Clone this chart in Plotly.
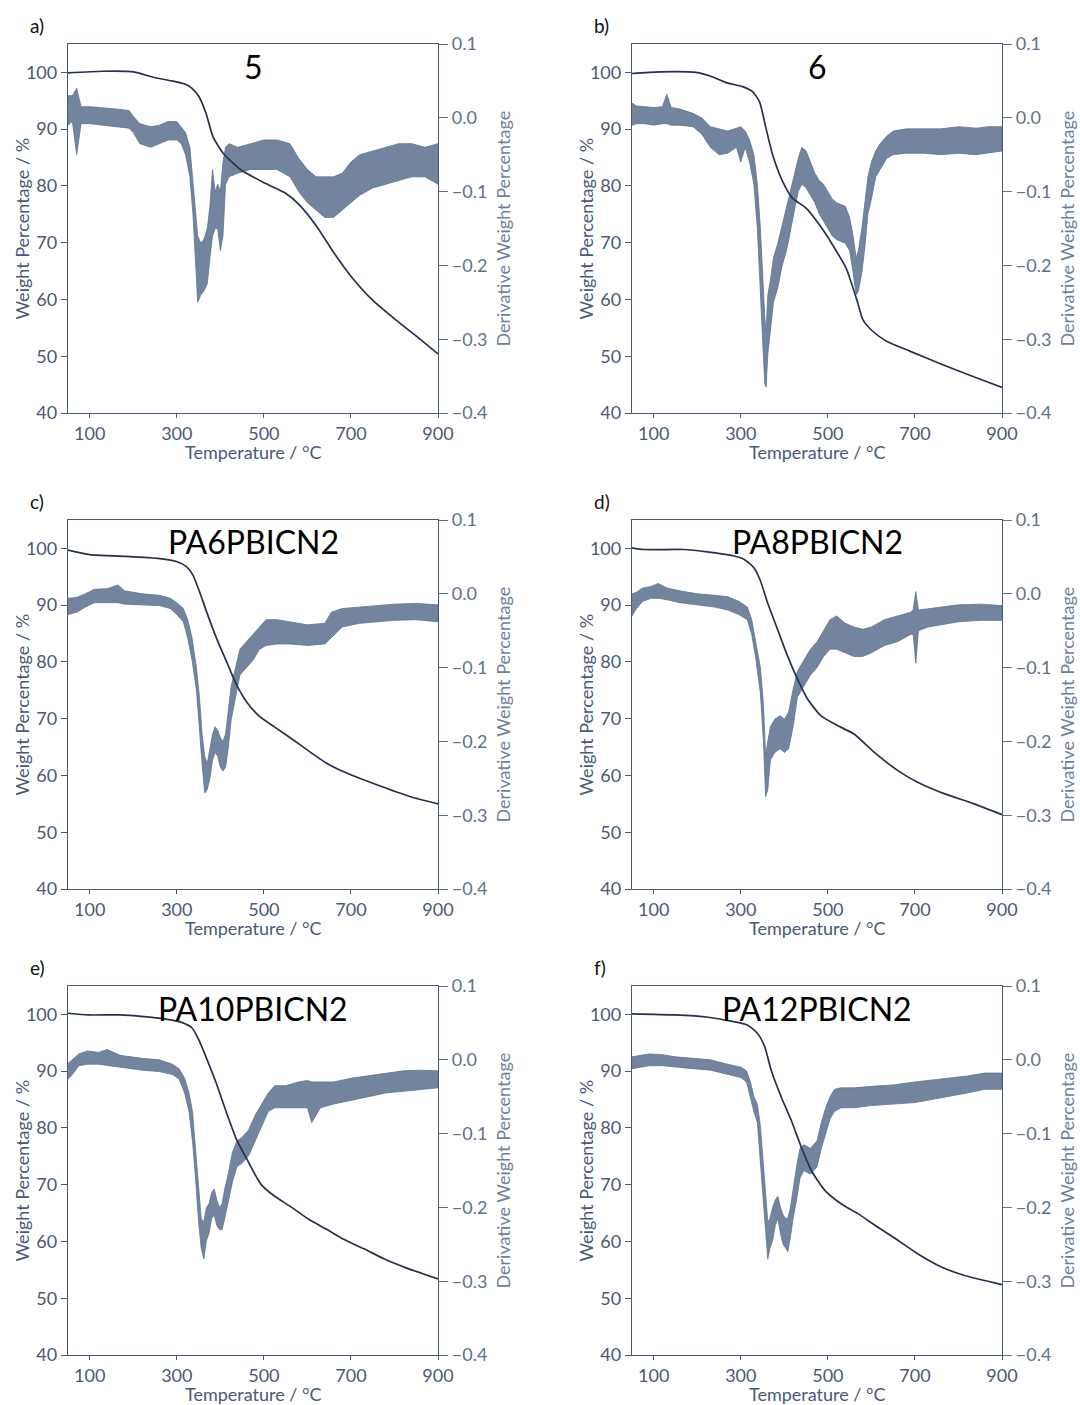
import plotly.graph_objects as go

W, H = 1080, 1405

PANEL_LABELS = ["a)", "b)", "c)", "d)", "e)", "f)"]
SAMPLE_NAMES = ["5", "6", "PA6PBICN2", "PA8PBICN2", "PA10PBICN2", "PA12PBICN2"]

X_TICKS = [100, 300, 500, 700, 900]
W_TICKS = [40, 50, 60, 70, 80, 90, 100]
D_TICKS = [-0.4, -0.3, -0.2, -0.1, 0.0, 0.1]

# ---------------- panel a (5) ----------------
tga_a_T = [50, 129, 201, 248, 288, 320, 335, 351, 367, 383, 407, 446, 502, 550, 581, 621, 661, 700, 748, 803, 851, 900]
tga_a_W = [99.9, 100.2, 100.1, 99.1, 98.5, 97.9, 97.2, 95.7, 92.8, 88.7, 85.7, 82.9, 80.5, 78.7, 76.7, 72.9, 68.2, 64.1, 60.0, 56.4, 53.5, 50.4]
dtg_a_T = [50, 60, 70, 80, 100, 130, 160, 190, 200, 215, 240, 260, 280, 300, 310, 320, 330, 337, 342, 348, 355, 362, 370, 376, 382, 388, 394, 400, 406, 412, 420, 440, 470, 500, 530, 560, 580, 600, 620, 640, 660, 680, 700, 720, 750, 780, 810, 840, 870, 900]
dtg_a_lo = [-0.01, -0.005, -0.05, -0.008, -0.008, -0.01, -0.012, -0.014, -0.02, -0.035, -0.04, -0.035, -0.03, -0.03, -0.035, -0.05, -0.08, -0.13, -0.18, -0.25, -0.24, -0.235, -0.225, -0.19, -0.16, -0.15, -0.15, -0.18, -0.16, -0.09, -0.08, -0.075, -0.07, -0.07, -0.07, -0.08, -0.1, -0.115, -0.125, -0.135, -0.135, -0.125, -0.115, -0.105, -0.095, -0.09, -0.085, -0.08, -0.08, -0.09]
dtg_a_hi = [0.03, 0.03, 0.04, 0.015, 0.015, 0.014, 0.012, 0.01, 0.002, -0.008, -0.012, -0.01, -0.005, -0.005, -0.012, -0.02, -0.04, -0.085, -0.12, -0.16, -0.17, -0.165, -0.15, -0.12, -0.07, -0.1, -0.09, -0.1, -0.06, -0.04, -0.035, -0.04, -0.035, -0.03, -0.03, -0.035, -0.055, -0.07, -0.08, -0.08, -0.08, -0.075, -0.06, -0.05, -0.045, -0.04, -0.035, -0.035, -0.04, -0.035]

# ---------------- panel b (6) ----------------
tga_b_T = [50, 113, 197, 228, 266, 304, 327, 343, 358, 373, 396, 419, 450, 481, 511, 542, 569, 580, 603, 634, 688, 764, 841, 900]
tga_b_W = [99.8, 100.1, 100.0, 99.4, 98.2, 97.5, 96.6, 94.8, 90.1, 85.5, 80.8, 77.8, 76.1, 73.1, 69.6, 65.5, 59.3, 56.5, 54.4, 52.7, 50.9, 48.5, 46.2, 44.5]
dtg_b_T = [50, 60, 80, 100, 120, 130, 140, 160, 190, 210, 230, 250, 270, 290, 300, 310, 320, 330, 338, 345, 350, 355, 358, 362, 368, 375, 385, 395, 405, 415, 425, 432, 440, 450, 460, 470, 480, 490, 500, 510, 520, 530, 540, 550, 558, 565, 570, 578, 585, 592, 600, 610, 620, 635, 650, 680, 720, 760, 800, 840, 870, 900]
dtg_b_lo = [-0.01, -0.008, -0.008, -0.01, -0.008, -0.008, -0.01, -0.01, -0.012, -0.022, -0.04, -0.05, -0.048, -0.04, -0.06, -0.04, -0.06, -0.09, -0.15, -0.23, -0.3, -0.36, -0.365, -0.32, -0.29, -0.25, -0.23, -0.2, -0.18, -0.15, -0.12, -0.1, -0.09, -0.095, -0.105, -0.115, -0.13, -0.14, -0.15, -0.16, -0.165, -0.168, -0.17, -0.18, -0.21, -0.24, -0.235, -0.21, -0.175, -0.13, -0.11, -0.08, -0.07, -0.055, -0.05, -0.048, -0.048, -0.05, -0.048, -0.05, -0.048, -0.045]
dtg_b_hi = [0.02, 0.016, 0.015, 0.014, 0.015, 0.032, 0.014, 0.012, 0.006, 0.0, -0.012, -0.015, -0.018, -0.014, -0.012, -0.018, -0.03, -0.05, -0.09, -0.15, -0.22, -0.27, -0.29, -0.24, -0.22, -0.19, -0.17, -0.145, -0.12, -0.095, -0.07, -0.055, -0.04, -0.045, -0.06, -0.075, -0.085, -0.09, -0.1, -0.11, -0.115, -0.118, -0.12, -0.135, -0.16, -0.19, -0.18, -0.15, -0.115, -0.08, -0.06, -0.045, -0.035, -0.025, -0.018, -0.015, -0.015, -0.015, -0.012, -0.014, -0.012, -0.012]

# ---------------- panel c (PA6PBICN2) ----------------
tga_c_T = [50, 100, 184, 261, 299, 322, 337, 352, 368, 391, 414, 437, 460, 490, 529, 567, 605, 643, 682, 758, 835, 900]
tga_c_W = [99.7, 98.9, 98.6, 98.2, 97.7, 96.8, 95.3, 92.4, 88.9, 84.2, 80.1, 76.0, 73.0, 70.4, 68.3, 66.3, 64.2, 62.2, 60.7, 58.4, 56.3, 55.0]
dtg_c_T = [50, 70, 90, 110, 140, 165, 180, 220, 260, 285, 300, 315, 325, 335, 345, 352, 358, 364, 370, 376, 382, 388, 394, 400, 406, 412, 418, 425, 435, 445, 460, 475, 490, 505, 530, 560, 600, 640, 655, 680, 720, 760, 800, 850, 900]
dtg_c_lo = [-0.028, -0.025, -0.018, -0.012, -0.012, -0.012, -0.014, -0.015, -0.016, -0.02, -0.028, -0.038, -0.06, -0.09, -0.13, -0.18, -0.23, -0.27, -0.265, -0.25, -0.225, -0.215, -0.22, -0.235, -0.24, -0.235, -0.21, -0.17, -0.14, -0.11, -0.1, -0.09, -0.075, -0.07, -0.068, -0.068, -0.07, -0.068, -0.06, -0.045, -0.04, -0.038, -0.036, -0.035, -0.038]
dtg_c_hi = [-0.006, -0.005, 0.0, 0.006, 0.007, 0.012, 0.004, 0.0, -0.002, -0.006, -0.012, -0.02, -0.035, -0.06, -0.1, -0.14, -0.19, -0.22, -0.23, -0.21, -0.19, -0.18, -0.185, -0.195, -0.2, -0.19, -0.16, -0.125, -0.1, -0.075, -0.065, -0.055, -0.045, -0.035, -0.035, -0.038, -0.042, -0.04, -0.025, -0.02, -0.018, -0.015, -0.014, -0.013, -0.015]

# ---------------- panel d (PA8PBICN2) ----------------
tga_d_T = [50, 77, 169, 223, 276, 307, 330, 345, 361, 384, 407, 430, 453, 483, 522, 560, 606, 660, 706, 767, 836, 900]
tga_d_W = [100.1, 99.8, 99.8, 99.4, 98.8, 98.1, 96.6, 94.3, 90.5, 85.8, 81.1, 77.0, 73.5, 70.6, 68.8, 67.3, 64.1, 60.9, 58.8, 56.8, 55.0, 53.1]
dtg_d_T = [50, 60, 75, 95, 110, 130, 160, 200, 240, 270, 295, 315, 325, 335, 345, 352, 357, 362, 368, 378, 390, 400, 410, 420, 430, 445, 460, 475, 490, 505, 520, 540, 560, 580, 600, 630, 660, 690, 696, 702, 708, 730, 760, 800, 850, 900]
dtg_d_lo = [-0.03, -0.02, -0.01, -0.006, -0.006, -0.008, -0.012, -0.015, -0.018, -0.022, -0.028, -0.035, -0.055, -0.09, -0.135, -0.2, -0.275, -0.265, -0.225, -0.215, -0.21, -0.215, -0.21, -0.18, -0.14, -0.125, -0.11, -0.1, -0.085, -0.075, -0.075, -0.08, -0.085, -0.085, -0.08, -0.07, -0.065, -0.055, -0.055, -0.094, -0.05, -0.045, -0.042, -0.038, -0.036, -0.036]
dtg_d_hi = [0.0, 0.002, 0.008, 0.01, 0.014, 0.008, 0.004, 0.0, -0.002, -0.004, -0.01, -0.018, -0.035, -0.065, -0.1, -0.15, -0.22, -0.2, -0.18, -0.17, -0.165, -0.17, -0.16, -0.13, -0.105, -0.09, -0.075, -0.065, -0.05, -0.035, -0.03, -0.04, -0.045, -0.048, -0.045, -0.035, -0.03, -0.025, -0.022, 0.003, -0.022, -0.02, -0.018, -0.015, -0.014, -0.016]

# ---------------- panel e (PA10PBICN2) ----------------
tga_e_T = [50, 97, 169, 224, 271, 311, 335, 350, 366, 390, 414, 437, 461, 493, 524, 564, 603, 643, 683, 730, 777, 825, 900]
tga_e_W = [100.2, 99.9, 99.9, 99.6, 99.2, 98.6, 97.6, 95.6, 92.7, 88.0, 82.7, 78.0, 74.5, 70.1, 68.0, 66.0, 63.9, 62.2, 60.4, 58.7, 56.9, 55.4, 53.4]
dtg_e_T = [50, 60, 75, 95, 120, 140, 170, 220, 260, 290, 305, 318, 328, 336, 343, 350, 356, 362, 368, 374, 380, 386, 392, 398, 404, 410, 418, 428, 438, 450, 465, 480, 495, 510, 525, 550, 580, 600, 610, 630, 660, 700, 740, 780, 820, 860, 900]
dtg_e_lo = [-0.026, -0.02, -0.008, -0.006, -0.006, -0.008, -0.01, -0.014, -0.016, -0.02, -0.026, -0.045, -0.07, -0.11, -0.16, -0.22, -0.255, -0.27, -0.245, -0.235, -0.215, -0.21, -0.225, -0.23, -0.23, -0.215, -0.195, -0.165, -0.145, -0.14, -0.13, -0.11, -0.09, -0.07, -0.065, -0.065, -0.065, -0.065, -0.085, -0.065, -0.06, -0.055, -0.05, -0.045, -0.042, -0.04, -0.038]
dtg_e_hi = [-0.005, 0.0, 0.008, 0.012, 0.01, 0.014, 0.006, 0.002, 0.0, -0.006, -0.012, -0.025, -0.045, -0.07, -0.12, -0.17, -0.215, -0.22, -0.2, -0.195, -0.18, -0.175, -0.19, -0.2, -0.195, -0.175, -0.155, -0.125, -0.11, -0.105, -0.095, -0.075, -0.06, -0.045, -0.035, -0.035, -0.03, -0.028, -0.03, -0.03, -0.03, -0.025, -0.022, -0.018, -0.015, -0.014, -0.015]

# ---------------- panel f (PA12PBICN2) ----------------
tga_f_T = [50, 148, 225, 278, 316, 339, 355, 370, 393, 416, 439, 462, 493, 531, 569, 615, 661, 707, 761, 814, 900]
tga_f_W = [100.1, 99.9, 99.5, 98.8, 98.1, 96.6, 94.3, 90.1, 85.4, 81.3, 76.6, 72.5, 69.0, 66.6, 64.9, 62.5, 60.2, 57.8, 55.5, 54.0, 52.4]
dtg_f_T = [50, 70, 90, 120, 150, 190, 230, 270, 300, 313, 322, 330, 338, 345, 352, 358, 362, 367, 373, 379, 385, 391, 397, 403, 408, 414, 420, 428, 436, 445, 460, 475, 485, 495, 505, 515, 530, 560, 600, 650, 700, 760, 820, 860, 900]
dtg_f_lo = [-0.012, -0.01, -0.008, -0.008, -0.01, -0.012, -0.014, -0.02, -0.024, -0.03, -0.05, -0.07, -0.085, -0.13, -0.19, -0.24, -0.27, -0.255, -0.245, -0.225, -0.215, -0.235, -0.25, -0.255, -0.26, -0.24, -0.215, -0.19, -0.16, -0.15, -0.155, -0.145, -0.12, -0.1, -0.08, -0.07, -0.065, -0.065, -0.062, -0.06, -0.058, -0.052, -0.045, -0.04, -0.04]
dtg_f_hi = [0.004, 0.006, 0.008, 0.007, 0.004, 0.002, 0.0, -0.006, -0.01, -0.015, -0.03, -0.05, -0.06, -0.09, -0.14, -0.19, -0.22, -0.215, -0.2, -0.19, -0.185, -0.2, -0.21, -0.215, -0.215, -0.2, -0.175, -0.145, -0.12, -0.115, -0.12, -0.11, -0.085, -0.065, -0.05, -0.04, -0.038, -0.038, -0.036, -0.034, -0.03, -0.026, -0.022, -0.018, -0.018]

PANELS = [
    (tga_a_T, tga_a_W, dtg_a_T, dtg_a_lo, dtg_a_hi),
    (tga_b_T, tga_b_W, dtg_b_T, dtg_b_lo, dtg_b_hi),
    (tga_c_T, tga_c_W, dtg_c_T, dtg_c_lo, dtg_c_hi),
    (tga_d_T, tga_d_W, dtg_d_T, dtg_d_lo, dtg_d_hi),
    (tga_e_T, tga_e_W, dtg_e_T, dtg_e_lo, dtg_e_hi),
    (tga_f_T, tga_f_W, dtg_f_T, dtg_f_lo, dtg_f_hi),
]

# ---------------- styling ----------------
FONT = "Lato"
AXIS_COL = "#4a5979"
RIGHT_COL = "#5f7091"
RIGHT_TITLE_COL = "#6e7f9c"
DTG_COL = "#5f7391"
DTG_FILL = "rgba(95,115,145,0.88)"
TGA_COL = "#27314d"
TICK_SIZE = 18
TITLE_SIZE = 18

COL_X = [(68, 438), (632, 1002)]        # plot left/right in px
ROW_Y = [(44, 413), (520, 889), (986, 1355)]  # plot top/bottom in px

fig = go.Figure()
layout = dict(
    width=W, height=H, margin=dict(l=0, r=0, t=0, b=0, autoexpand=False),
    paper_bgcolor="white", plot_bgcolor="white", showlegend=False,
    font=dict(family=FONT, color=AXIS_COL),
)
annotations = []

for i, (tT, tW, dT, dlo, dhi) in enumerate(PANELS):
    r, c = divmod(i, 2)
    x0, x1 = COL_X[c]
    y0, y1 = ROW_Y[r]
    xn = i + 1
    ybase = 2 * i + 1   # DTG axis (right side)
    yover = 2 * i + 2   # TGA axis (left side, drawn on top)
    xkey = "xaxis" if xn == 1 else f"xaxis{xn}"
    xref = "x" if xn == 1 else f"x{xn}"
    ybkey = "yaxis" if ybase == 1 else f"yaxis{ybase}"
    ybref = "y" if ybase == 1 else f"y{ybase}"
    yokey = f"yaxis{yover}"
    yoref = f"y{yover}"

    dom_x = [x0 / W, x1 / W]
    dom_y = [1 - y1 / H, 1 - y0 / H]

    layout[xkey] = dict(
        domain=dom_x, anchor=ybref, range=[50, 900], tickvals=X_TICKS,
        showline=True, linecolor=AXIS_COL, linewidth=1.3, mirror=True,
        ticks="outside", ticklen=4, tickwidth=1.2, tickcolor=AXIS_COL,
        showgrid=False, zeroline=False, automargin=False,
        tickfont=dict(family=FONT, size=TICK_SIZE, color=AXIS_COL),
    )
    layout[ybkey] = dict(
        domain=dom_y, anchor=xref, side="right", range=[-0.4, 0.1],
        tickvals=D_TICKS, tickformat=".1f",
        showline=True, linecolor=AXIS_COL, linewidth=1.3,
        ticks="outside", ticklen=9, tickwidth=1.2, tickcolor=RIGHT_COL,
        showgrid=False, zeroline=False, automargin=False,
        tickfont=dict(family=FONT, size=TICK_SIZE, color=RIGHT_COL),
    )
    layout[yokey] = dict(
        overlaying=ybref, anchor=xref, side="left", range=[40, 105],
        tickvals=W_TICKS,
        showline=True, linecolor=AXIS_COL, linewidth=1.3,
        ticks="outside", ticklen=6, tickwidth=1.2, tickcolor=AXIS_COL,
        showgrid=False, zeroline=False, automargin=False,
        tickfont=dict(family=FONT, size=TICK_SIZE, color=AXIS_COL),
    )

    # DTG noise band (envelope)
    fig.add_trace(go.Scatter(
        x=list(dT) + list(dT)[::-1], y=list(dhi) + list(dlo)[::-1],
        xaxis=xref, yaxis=ybref, mode="lines", fill="toself",
        fillcolor=DTG_FILL, line=dict(color=DTG_COL, width=0.8),
        hoverinfo="skip",
    ))
    # TGA curve
    fig.add_trace(go.Scatter(
        x=tT, y=tW, xaxis=xref, yaxis=yoref, mode="lines",
        line=dict(color=TGA_COL, width=1.7, shape="spline", smoothing=0.6),
    ))

    cx = (x0 + x1) / 2
    cy = (y0 + y1) / 2
    annotations += [
        dict(text=PANEL_LABELS[i], x=(x0 - 40) / W, y=1 - (y0 - 19) / H,
             xref="paper", yref="paper", xanchor="left", yanchor="middle",
             showarrow=False, font=dict(family=FONT, size=19, color="#111111")),
        dict(text=SAMPLE_NAMES[i], x=cx / W, y=1 - (y0 + 22) / H,
             xref="paper", yref="paper", xanchor="center", yanchor="middle",
             showarrow=False, font=dict(family=FONT, size=32, color="#000000")),
        dict(text="Weight Percentage / %", x=(x0 - 47) / W, y=1 - cy / H,
             xref="paper", yref="paper", xanchor="center", yanchor="middle",
             textangle=-90, showarrow=False,
             font=dict(family=FONT, size=TITLE_SIZE, color=AXIS_COL)),
        dict(text="Derivative Weight Percentage", x=(x1 + 64) / W, y=1 - cy / H,
             xref="paper", yref="paper", xanchor="center", yanchor="middle",
             textangle=-90, showarrow=False,
             font=dict(family=FONT, size=TITLE_SIZE, color=RIGHT_TITLE_COL)),
        dict(text="Temperature / °C", x=cx / W, y=1 - (y1 + 39) / H,
             xref="paper", yref="paper", xanchor="center", yanchor="middle",
             showarrow=False, font=dict(family=FONT, size=TITLE_SIZE, color=AXIS_COL)),
    ]

layout["annotations"] = annotations
fig.update_layout(**layout)
fig.write_html(
    "out.html",
    config={"displayModeBar": False},
    post_script="document.body.style.margin='0px';document.body.style.padding='0px';",
)
